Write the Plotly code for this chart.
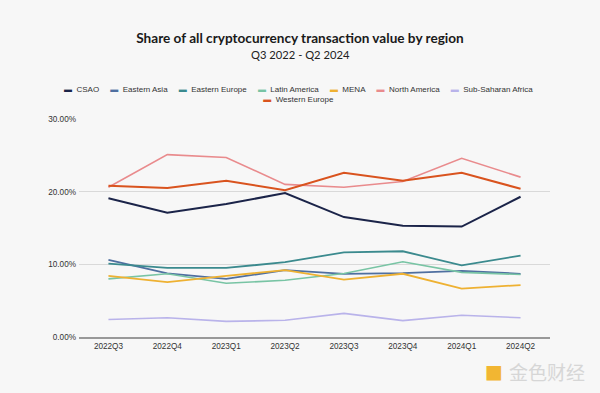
import plotly.graph_objects as go

quarters = ["2022Q3", "2022Q4", "2023Q1", "2023Q2", "2023Q3", "2023Q4", "2024Q1", "2024Q2"]

csao = [19.1, 17.1, 18.3, 19.8, 16.5, 15.3, 15.2, 19.3]
eastern_asia = [10.6, 8.75, 8.0, 9.2, 8.7, 8.8, 9.1, 8.7]
eastern_europe = [10.1, 9.5, 9.5, 10.3, 11.65, 11.8, 9.85, 11.2]
latin_america = [8.0, 8.7, 7.4, 7.8, 8.75, 10.35, 8.9, 8.6]
mena = [8.4, 7.55, 8.4, 9.2, 7.9, 8.7, 6.65, 7.15]
north_america = [20.6, 25.1, 24.7, 21.0, 20.6, 21.4, 24.6, 22.0]
sub_saharan_africa = [2.4, 2.65, 2.15, 2.3, 3.25, 2.25, 3.0, 2.65]
western_europe = [20.8, 20.5, 21.5, 20.2, 22.6, 21.5, 22.6, 20.4]

series_names = ["CSAO", "Eastern Asia", "Eastern Europe", "Latin America", "MENA",
                "North America", "Sub-Saharan Africa", "Western Europe"]
series_values = [csao, eastern_asia, eastern_europe, latin_america, mena,
                 north_america, sub_saharan_africa, western_europe]
series_colors = ["#1b2449", "#4f6fa0", "#3b8a8e", "#78c4a4", "#eeb132",
                 "#e98b8d", "#b9b3ea", "#d9531e"]
line_widths = [2, 1.8, 1.8, 1.6, 1.8, 1.6, 1.6, 2]

y_ticks = [0, 10, 20, 30]
y_tick_labels = ["0.00%", "10.00%", "20.00%", "30.00%"]

bg = "#f7f7f7"

fig = go.Figure()
for name, vals, col, w in zip(series_names, series_values, series_colors, line_widths):
    fig.add_trace(go.Scatter(x=quarters, y=vals, name=name, mode="lines",
                             line=dict(color=col, width=w), showlegend=False))

# legend built from names and colours (single centred text block)
nb = "\u00a0"
entries = [f"<span style='color:{c}'>▬</span>{nb}{nb}{n}" for n, c in zip(series_names, series_colors)]
legend_text = (nb * 5).join(entries[:7]) + "<br>" + entries[7]

fig.add_annotation(x=0.5, y=1.0, xref="paper", yref="paper", yanchor="bottom",
                   xshift=-16, yshift=13, text=legend_text, showarrow=False,
                   font=dict(family="Liberation Sans, Arial", size=8, color="#333333"),
                   align="center")

# subtitle
fig.add_annotation(x=0.5, y=1.0, xref="paper", yref="paper", yanchor="middle",
                   xshift=-14, yshift=64.5, text="Q3 2022 - Q2 2024", showarrow=False,
                   font=dict(family="Lato, Inter, sans-serif", size=11.2, color="#222222"))

# watermark
fig.add_annotation(x=1.0, y=0.0, xref="paper", yref="paper", xanchor="left", yanchor="middle",
                   xshift=-67, yshift=-34, text="<span style='color:#f2b632'>■</span>",
                   showarrow=False, font=dict(family="DejaVu Sans", size=19))
fig.add_annotation(x=1.0, y=0.0, xref="paper", yref="paper", xanchor="left", yanchor="middle",
                   xshift=-43, yshift=-34, text="金色财经", showarrow=False,
                   font=dict(family="Noto Sans CJK SC", size=19, color="#d6d6d6"))

fig.update_layout(
    width=600, height=393,
    paper_bgcolor=bg, plot_bgcolor=bg,
    margin=dict(l=79, r=50, t=119, b=56),
    title=dict(
        text="<b>Share of all cryptocurrency transaction value by region</b>",
        x=0.5, xanchor="center", xref="container",
        y=1 - 38.5 / 393, yanchor="middle", yref="container",
        font=dict(family="Lato, Inter, sans-serif", size=13.6, color="#1a1a1a")),
    xaxis=dict(type="category", range=[-0.5, 7.5], showgrid=False, zeroline=False,
               showline=True, linecolor="#999999", linewidth=2, ticks="",
               tickfont=dict(family="Liberation Sans, Arial", size=8.2, color="#333333")),
    yaxis=dict(range=[0, 30], tickvals=y_ticks, ticktext=y_tick_labels,
               showgrid=True, gridcolor="#d9d9d9", gridwidth=1, zeroline=False,
               showline=False, ticks="", ticklabelstandoff=2,
               tickfont=dict(family="Liberation Sans, Arial", size=8.2, color="#333333")),
)

fig.write_html("out.html", config={"displayModeBar": False},
               post_script="document.body.style.margin='0';")
